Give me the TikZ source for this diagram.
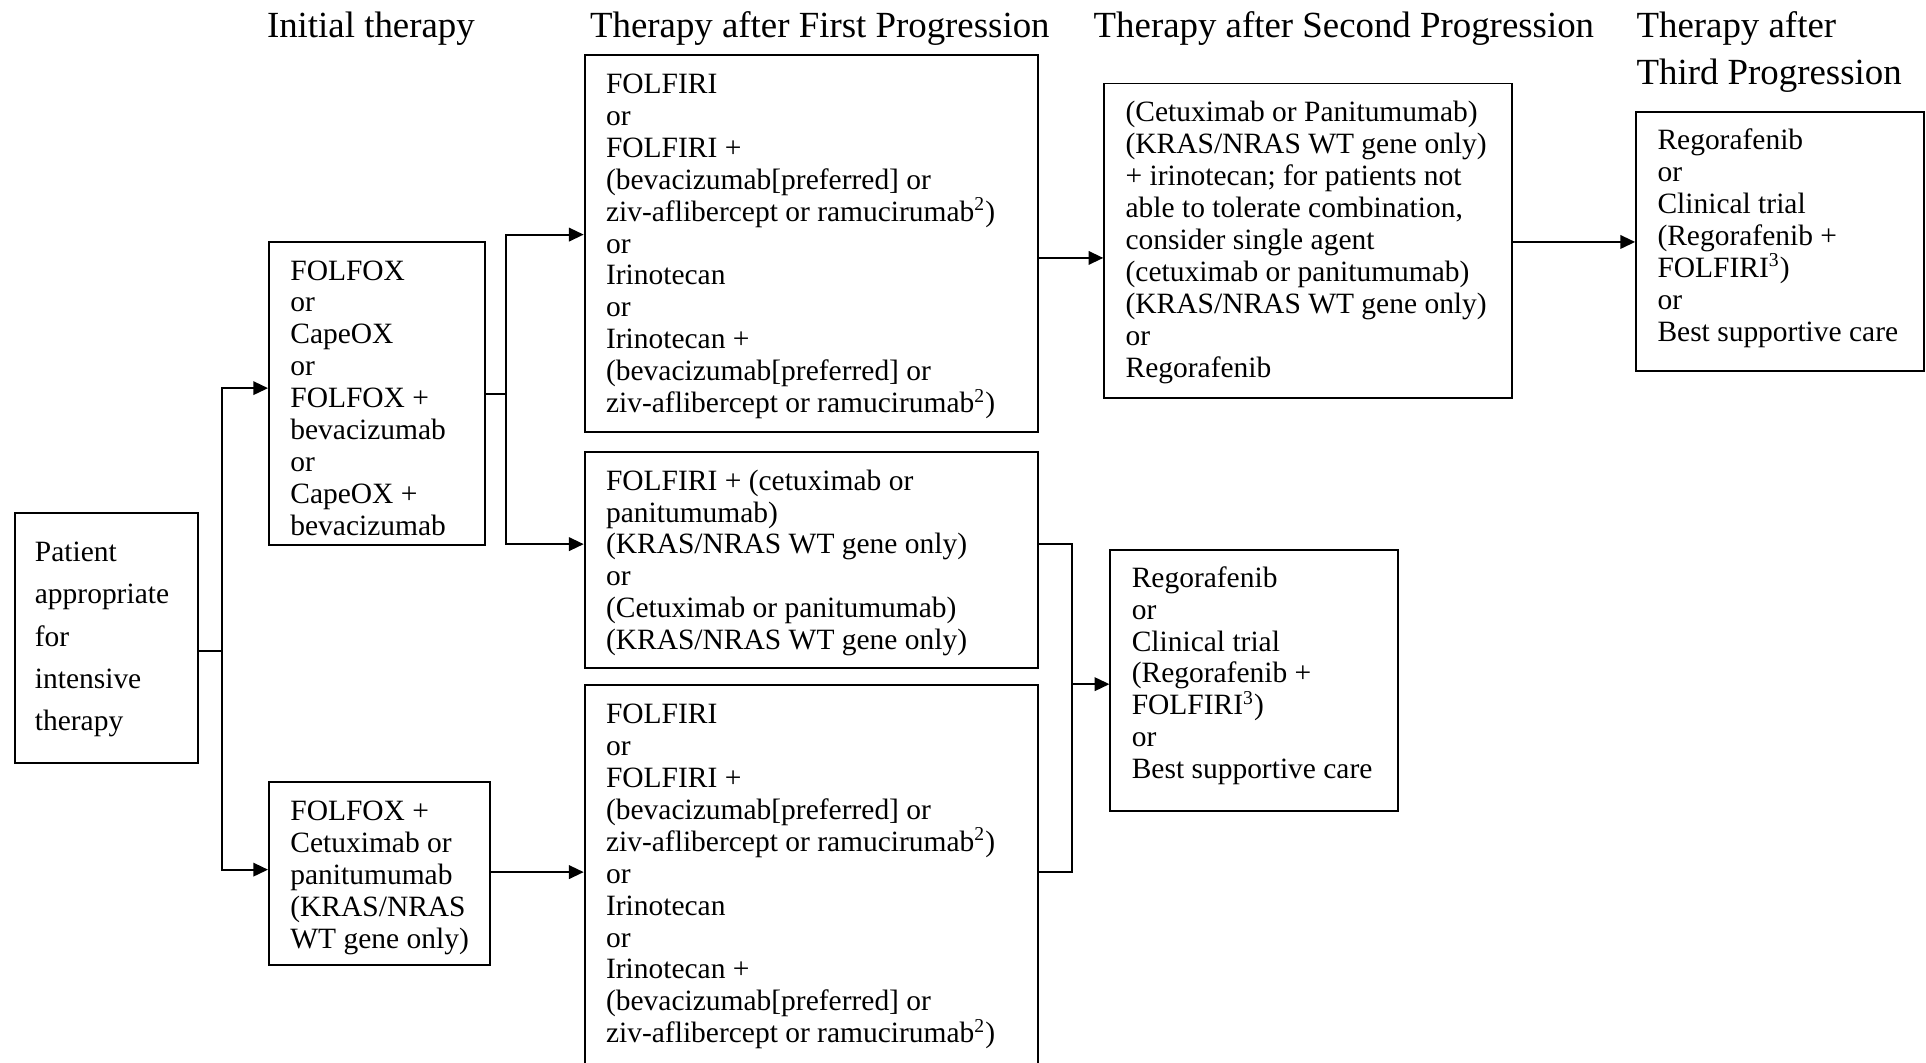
\documentclass[tikz,border=0pt]{standalone}
\usepackage{fontspec}
\setmainfont{Liberation Serif}
\usetikzlibrary{arrows.meta,fit}
\begin{document}
\begin{tikzpicture}[x=0.5pt,y=-0.5pt,
  box/.style={draw, line width=0.8pt, inner sep=0pt},
  % multi-line texts are placed by the baseline of their last line
  txt/.style={align=left, inner sep=0pt, anchor=base west, font=\fontsize{12}{13}\selectfont},
  head/.style={align=left, inner sep=0pt, anchor=base west, font=\fontsize{15}{19}\selectfont},
  conn/.style={line width=0.8pt},
  arr/.style={conn, -{Triangle[length=6pt,width=5.5pt]}}]
\useasboundingbox (0,0) rectangle (1568,865);
\clip (0,0) rectangle (1568,865);

% column headings
\node[head] (h1) at (217,30.5) {Initial therapy};
\node[head] (h2) at (480,30.5) {Therapy after First Progression};
\node[head] (h3) at (890,30.5) {Therapy after Second Progression};
\node[head] (h4) at (1332,68.5) {Therapy after\\Third Progression};

% boxes
\node[box, fit={(12,418) (161,621)}] (p) {};
\node[box, fit={(219,197) (395,444)}] (a) {};
\node[box, fit={(219,637) (399,786)}] (b) {};
\node[box, fit={(476,45) (845,352)}] (c) {};
\node[box, fit={(476,368) (845,544)}] (d) {};
\node[box, fit={(476,558) (845,890)}] (e) {};
\node[box, fit={(899,68) (1231,324)}] (f) {};
\node[box, fit={(1332,91) (1566,302)}] (g) {};
\node[box, fit={(904,448) (1138,660)}] (h) {};

% box texts
\node[txt, font=\fontsize{12}{17.25}\selectfont] (ptext) at (28,595)
  {Patient\\appropriate\\for\\intensive\\therapy};
\node[txt] (atext) at (236,436)
  {FOLFOX\\or\\CapeOX\\or\\FOLFOX +\\bevacizumab\\or\\CapeOX +\\bevacizumab};
\node[txt] (btext) at (236,772)
  {FOLFOX +\\Cetuximab or\\panitumumab\\(KRAS/NRAS\\WT gene only)};
\node[txt] (ctext) at (493,336)
  {FOLFIRI\\or\\FOLFIRI +\\(bevacizumab[preferred] or\\ziv-aflibercept or ramucirumab\textsuperscript{2})\\or\\Irinotecan\\or\\Irinotecan +\\(bevacizumab[preferred] or\\ziv-aflibercept or ramucirumab\textsuperscript{2})};
\node[txt] (dtext) at (493,529)
  {FOLFIRI + (cetuximab or\\panitumumab)\\(KRAS/NRAS WT gene only)\\or\\(Cetuximab or panitumumab)\\(KRAS/NRAS WT gene only)};
\node[txt] (etext) at (493,849)
  {FOLFIRI\\or\\FOLFIRI +\\(bevacizumab[preferred] or\\ziv-aflibercept or ramucirumab\textsuperscript{2})\\or\\Irinotecan\\or\\Irinotecan +\\(bevacizumab[preferred] or\\ziv-aflibercept or ramucirumab\textsuperscript{2})};
\node[txt] (ftext) at (916,307)
  {(Cetuximab or Panitumumab)\\(KRAS/NRAS WT gene only)\\+ irinotecan; for patients not\\able to tolerate combination,\\consider single agent\\(cetuximab or panitumumab)\\(KRAS/NRAS WT gene only)\\or\\Regorafenib};
\node[txt] (gtext) at (1349,278)
  {Regorafenib\\or\\Clinical trial\\(Regorafenib +\\FOLFIRI\textsuperscript{3})\\or\\Best supportive care};
\node[txt] (htext) at (921,634)
  {Regorafenib\\or\\Clinical trial\\(Regorafenib +\\FOLFIRI\textsuperscript{3})\\or\\Best supportive care};

% junction points
\coordinate (j1) at (181,530);
\coordinate (j1a) at (181,316);
\coordinate (j1b) at (181,708);
\coordinate (j2) at (412,321);
\coordinate (j2a) at (412,191);
\coordinate (j2b) at (412,443);
\coordinate (j3) at (440,710);
\coordinate (j4) at (870,210);
\coordinate (j5a) at (873,443);
\coordinate (j5b) at (873,710);
\coordinate (j5) at (873,557);
\coordinate (j6) at (1280,197);

% connectors
\draw[conn] (p.east |- j1) -- (j1);
\draw[arr] (j1) -- (j1a) -- (j1a -| a.west);
\draw[arr] (j1) -- (j1b) -- (j1b -| b.west);
\draw[conn] (a.east |- j2) -- (j2);
\draw[arr] (j2) -- (j2a) -- (j2a -| c.west);
\draw[arr] (j2) -- (j2b) -- (j2b -| d.west);
\draw[arr] (j3 -| b.east) -- (j3 -| e.west);
\draw[arr] (j4 -| c.east) -- (j4 -| f.west);
\draw[conn] (j5a -| d.east) -- (j5a) -- (j5b) -- (j5b -| e.east);
\draw[arr] (j5) -- (j5 -| h.west);
\draw[arr] (j6 -| f.east) -- (j6 -| g.west);
\end{tikzpicture}
\end{document}
